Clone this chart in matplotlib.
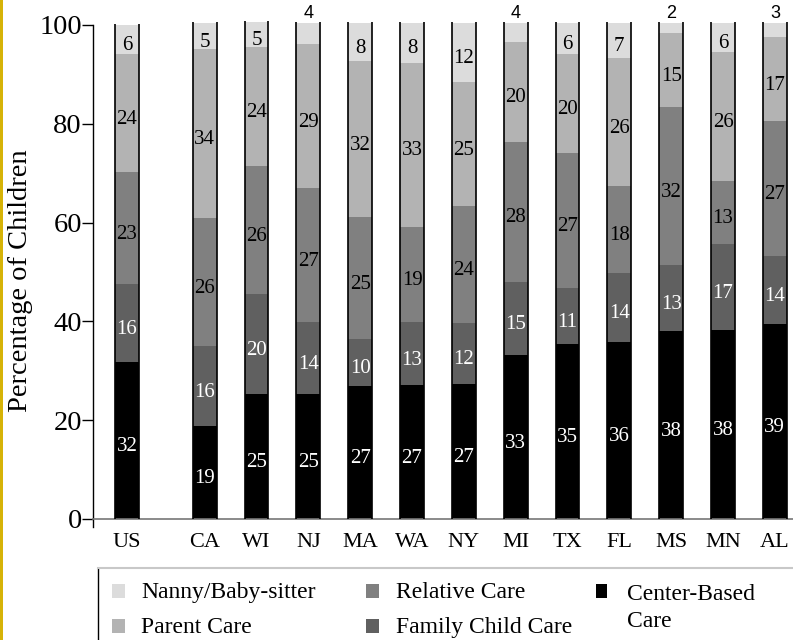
import matplotlib
matplotlib.use("Agg")
import matplotlib.pyplot as plt
from matplotlib.patches import Rectangle
from matplotlib.lines import Line2D
import numpy as np

states = ['US', 'CA', 'WI', 'NJ', 'MA', 'WA', 'NY', 'MI', 'TX', 'FL', 'MS', 'MN', 'AL']
center_based = [31.8, 18.8, 25.4, 25.4, 26.9, 27.1, 27.4, 33.2, 35.4, 35.9, 38.1, 38.2, 39.4]
family_child = [15.8, 16.3, 20.1, 14.4, 9.6, 12.7, 12.3, 14.8, 11.4, 13.8, 13.3, 17.4, 13.9]
relative_care = [22.6, 25.8, 26.0, 27.3, 24.6, 19.4, 23.6, 28.4, 27.3, 17.8, 31.9, 12.8, 27.3]
parent_care = [23.9, 34.2, 24.1, 29.0, 31.6, 33.2, 25.1, 20.2, 20.0, 25.8, 15.1, 26.1, 16.9]
nanny = [5.9, 5.4, 5.0, 4.4, 7.8, 8.1, 12.1, 3.9, 6.4, 7.2, 2.1, 6.0, 3.0]

series = [
    ("Center-Based\nCare", center_based, "#000000", "white"),
    ("Family Child Care", family_child, "#606060", "white"),
    ("Relative Care", relative_care, "#808080", "black"),
    ("Parent Care", parent_care, "#b3b3b3", "black"),
    ("Nanny/Baby-sitter", nanny, "#dcdcdc", "black"),
]

SERIF = ["Liberation Serif", "DejaVu Serif"]
SANS = ["Liberation Sans", "DejaVu Sans"]

W, H = 793, 640
fig = plt.figure(figsize=(W / 100, H / 100), dpi=100)
fig.patch.set_facecolor("white")

# gold strip on the left edge
fig.add_artist(Rectangle((0, 0), 3.3 / W, 1, transform=fig.transFigure,
                         facecolor="#d6b307", edgecolor="none"))

ax = fig.add_axes([93 / W, 121 / H, 700 / W, 494 / H])

x = np.array([0.0] + [1.5 + i for i in range(len(states) - 1)])
width = 0.46

bottom = np.zeros(len(states))
for name, vals, col, tcol in series:
    vals = np.array(vals)
    ax.bar(x, vals, width, bottom=bottom, color=col, edgecolor="none",
           linewidth=0, clip_on=False, zorder=2)
    for xi, b, v in zip(x, bottom, vals):
        if name.startswith("Nanny") and v < 4.9:
            ax.annotate(f"{v:.0f}", (xi, b + v), xytext=(0, 0.5),
                        textcoords="offset points", ha="center", va="bottom",
                        fontsize=13, family=SANS, color="black", annotation_clip=False)
        else:
            ax.annotate(f"{v:.0f}", (xi, b + v / 2), xytext=(0, -4.5),
                        textcoords="offset points", ha="center", va="center",
                        fontsize=15, family=SERIF, color=tcol, zorder=4)
    bottom = bottom + vals

# black side edges of each bar
ax.vlines(np.concatenate([x - width / 2, x + width / 2]), 0,
          np.concatenate([bottom, bottom]) + 0.2, colors="black",
          linewidth=1.2, zorder=3, clip_on=False)

ax.set_xlim(-0.656, 12.85)
ax.set_ylim(0, 100)
ax.set_yticks([0, 20, 40, 60, 80, 100])
ax.set_xticks(x)
ax.set_xticklabels(states, fontsize=16, family=SERIF)
for lab in ax.get_yticklabels():
    lab.set_fontsize(20.5)
    lab.set_family(SERIF)
ax.tick_params(axis="x", length=0, pad=10)
ax.tick_params(axis="y", length=8, width=1, direction="out", pad=0)

for s in ["top", "right"]:
    ax.spines[s].set_visible(False)
ax.spines["left"].set_color("black")
ax.spines["left"].set_linewidth(1)
ax.spines["left"].set_bounds(-1.6, 100)
ax.spines["bottom"].set_color("#777777")
ax.spines["bottom"].set_linewidth(1.2)

def fx(px):
    return px / W

def fy(py):
    return 1 - py / H

fig.text(fx(21), fy(281), "Percentage of Children", rotation=90, fontsize=20.5,
         family=SERIF, ha="center", va="center")

# legend box (manual)
fig.add_artist(Line2D([fx(97.5), fx(97.5)], [fy(568), 0], transform=fig.transFigure,
                      color="black", linewidth=1))
fig.add_artist(Line2D([fx(97.5), 1], [fy(568), fy(568)], transform=fig.transFigure,
                      color="#c8c8c8", linewidth=1.5))

legend_items = [
    ("Nanny/Baby-sitter", "#dcdcdc", 112, 141, 598),
    ("Parent Care", "#b3b3b3", 112, 141, 633),
    ("Relative Care", "#808080", 366, 396, 598),
    ("Family Child Care", "#606060", 366, 396, 633),
]
for lab, col, mx, tx, base in legend_items:
    fig.add_artist(Rectangle((fx(mx), fy(base)), 13 / W, 14 / H,
                             transform=fig.transFigure, facecolor=col, edgecolor="none"))
    fig.text(fx(tx), fy(base), lab, fontsize=17, family=SERIF, va="baseline", ha="left")

fig.add_artist(Rectangle((fx(596), fy(598)), 11 / W, 14 / H,
                         transform=fig.transFigure, facecolor="#000000", edgecolor="none"))
fig.text(fx(627), fy(600), "Center-Based", fontsize=17, family=SERIF, va="baseline", ha="left")
fig.text(fx(627), fy(627), "Care", fontsize=17, family=SERIF, va="baseline", ha="left")

fig.savefig("out.png", dpi=100, facecolor="white")
